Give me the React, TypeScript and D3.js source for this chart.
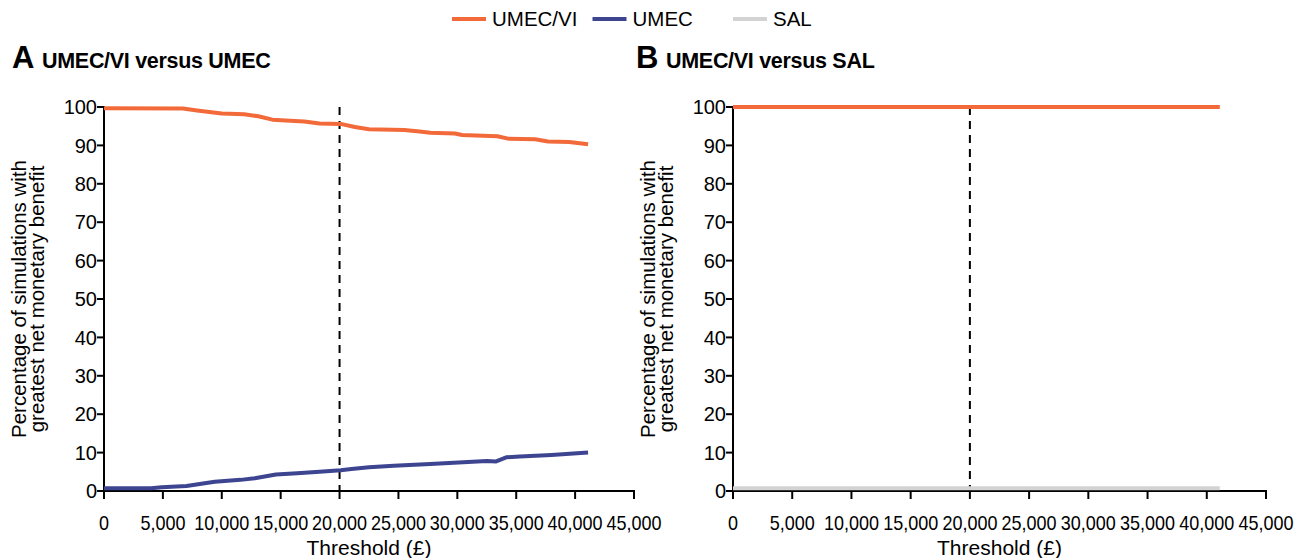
import * as d3 from "d3";

// series values
const umecViA_x = [0, 6700, 7900, 10000, 11900, 13100, 14300, 15800, 17000, 18300, 20100, 21300, 22500, 25500, 26800, 27700, 29800, 30400, 33400, 34400, 36600, 37700, 39500, 41100];
const umecViA_y = [99.7, 99.6, 99.1, 98.3, 98.1, 97.6, 96.7, 96.4, 96.2, 95.7, 95.6, 94.8, 94.2, 94.0, 93.6, 93.3, 93.1, 92.7, 92.4, 91.7, 91.6, 91.0, 90.9, 90.3];

const umecA_x = [0, 4000, 4900, 7000, 9400, 11600, 12800, 14600, 16400, 18300, 20100, 21000, 22500, 24600, 27700, 30100, 32500, 33300, 34200, 35300, 38000, 41100];
const umecA_y = [0.7, 0.7, 1.0, 1.3, 2.4, 2.9, 3.3, 4.3, 4.6, 5.0, 5.4, 5.7, 6.2, 6.6, 7.0, 7.4, 7.8, 7.7, 8.8, 9.0, 9.4, 10.0];

const umecViB_x = [0, 41100];
const umecViB_y = [100, 100];
const salB_x = [0, 41100];
const salB_y = [0.7, 0.7];

const xTicks = [0, 5000, 10000, 15000, 20000, 25000, 30000, 35000, 40000, 45000];
const yTicks = [0, 10, 20, 30, 40, 50, 60, 70, 80, 90, 100];
const willingness = 20000;

const legendNames = ["UMEC/VI", "UMEC", "SAL"];
const colors = { "UMEC/VI": "#f26a3a", UMEC: "#3d4590", SAL: "#d3d3d3" };

const font = "'Liberation Sans', Arial, sans-serif";

type Series = { name: string; xs: number[]; ys: number[] };

function Panel({ left, right, letterX, letter, title, series }: { left: number; right: number; letterX: number; letter: string; title: string; series: Series[] }) {
  const x = d3.scaleLinear().domain([0, 45000]).range([left, right]);
  const y = d3.scaleLinear().domain([0, 100]).range([491, 107]);
  const line = d3.line<[number, number]>().x(d => x(d[0])).y(d => y(d[1]));
  const fmt = d3.format(",");
  const midX = (left + right) / 2;

  return (
    <g fontFamily={font}>
      {/* title */}
      <text x={letterX} y={68} fontSize={31} fontWeight="bold">{letter}</text>
      <text x={letterX + 30} y={68} fontSize={21.5} fontWeight="bold" letterSpacing={-0.3}>{title}</text>

      {/* y axis */}
      <line x1={left} x2={left} y1={y(100) - 1} y2={y(0) + 1} stroke="black" strokeWidth={2} />
      {yTicks.map(t => (
        <g key={t}>
          <line x1={left - 7} x2={left} y1={y(t)} y2={y(t)} stroke="black" strokeWidth={2} />
          <text x={left - 7} y={y(t)} dy="0.36em" textAnchor="end" fontSize={20}>{t}</text>
        </g>
      ))}
      <text transform={`translate(${left - 78},${(y(0) + y(100)) / 2}) rotate(-90)`} textAnchor="middle" fontSize={20.5}>
        <tspan x={0} dy={0}>Percentage of simulations with</tspan>
        <tspan x={0} dy={18}>greatest net monetary benefit</tspan>
      </text>

      {/* x axis */}
      <line x1={left - 1} x2={right + 1} y1={y(0)} y2={y(0)} stroke="black" strokeWidth={2} />
      {xTicks.map(t => (
        <g key={t}>
          <line x1={x(t)} x2={x(t)} y1={y(0)} y2={y(0) + 8} stroke="black" strokeWidth={2} />
          <text transform={`translate(${x(t)},530) scale(0.9,1)`} textAnchor="middle" fontSize={20}>{fmt(t)}</text>
        </g>
      ))}
      <text x={midX} y={555} textAnchor="middle" fontSize={21}>Threshold (£)</text>

      {/* willingness-to-pay threshold */}
      <line x1={x(willingness)} x2={x(willingness)} y1={y(100)} y2={y(0)} stroke="black" strokeWidth={2} strokeDasharray="8,6" />

      {series.map(s => (
        <path key={s.name} d={line(s.xs.map((v, i) => [v, s.ys[i]]) as [number, number][]) || ""}
          fill="none" stroke={colors[s.name as keyof typeof colors]} strokeWidth={4} strokeLinejoin="round" />
      ))}
    </g>
  );
}

export default function App() {
  const legendX = d3.scalePoint().domain(legendNames).range([452, 733]);
  return (
    <svg width={1299} height={558} style={{ position: "absolute", left: 0, top: 0, background: "white" }}>
      <g fontFamily={font}>
        {legendNames.map(n => (
          <g key={n}>
            <line x1={legendX(n)!} x2={legendX(n)! + 34} y1={19} y2={19} stroke={colors[n as keyof typeof colors]} strokeWidth={4} />
            <text x={legendX(n)! + 40} y={19} dy="0.36em" fontSize={20.5}>{n}</text>
          </g>
        ))}
      </g>
      <Panel left={104} right={634} letterX={12} letter="A" title="UMEC/VI versus UMEC"
        series={[{ name: "UMEC/VI", xs: umecViA_x, ys: umecViA_y }, { name: "UMEC", xs: umecA_x, ys: umecA_y }]} />
      <Panel left={733} right={1266} letterX={636} letter="B" title="UMEC/VI versus SAL"
        series={[{ name: "SAL", xs: salB_x, ys: salB_y }, { name: "UMEC/VI", xs: umecViB_x, ys: umecViB_y }]} />
    </svg>
  );
}
